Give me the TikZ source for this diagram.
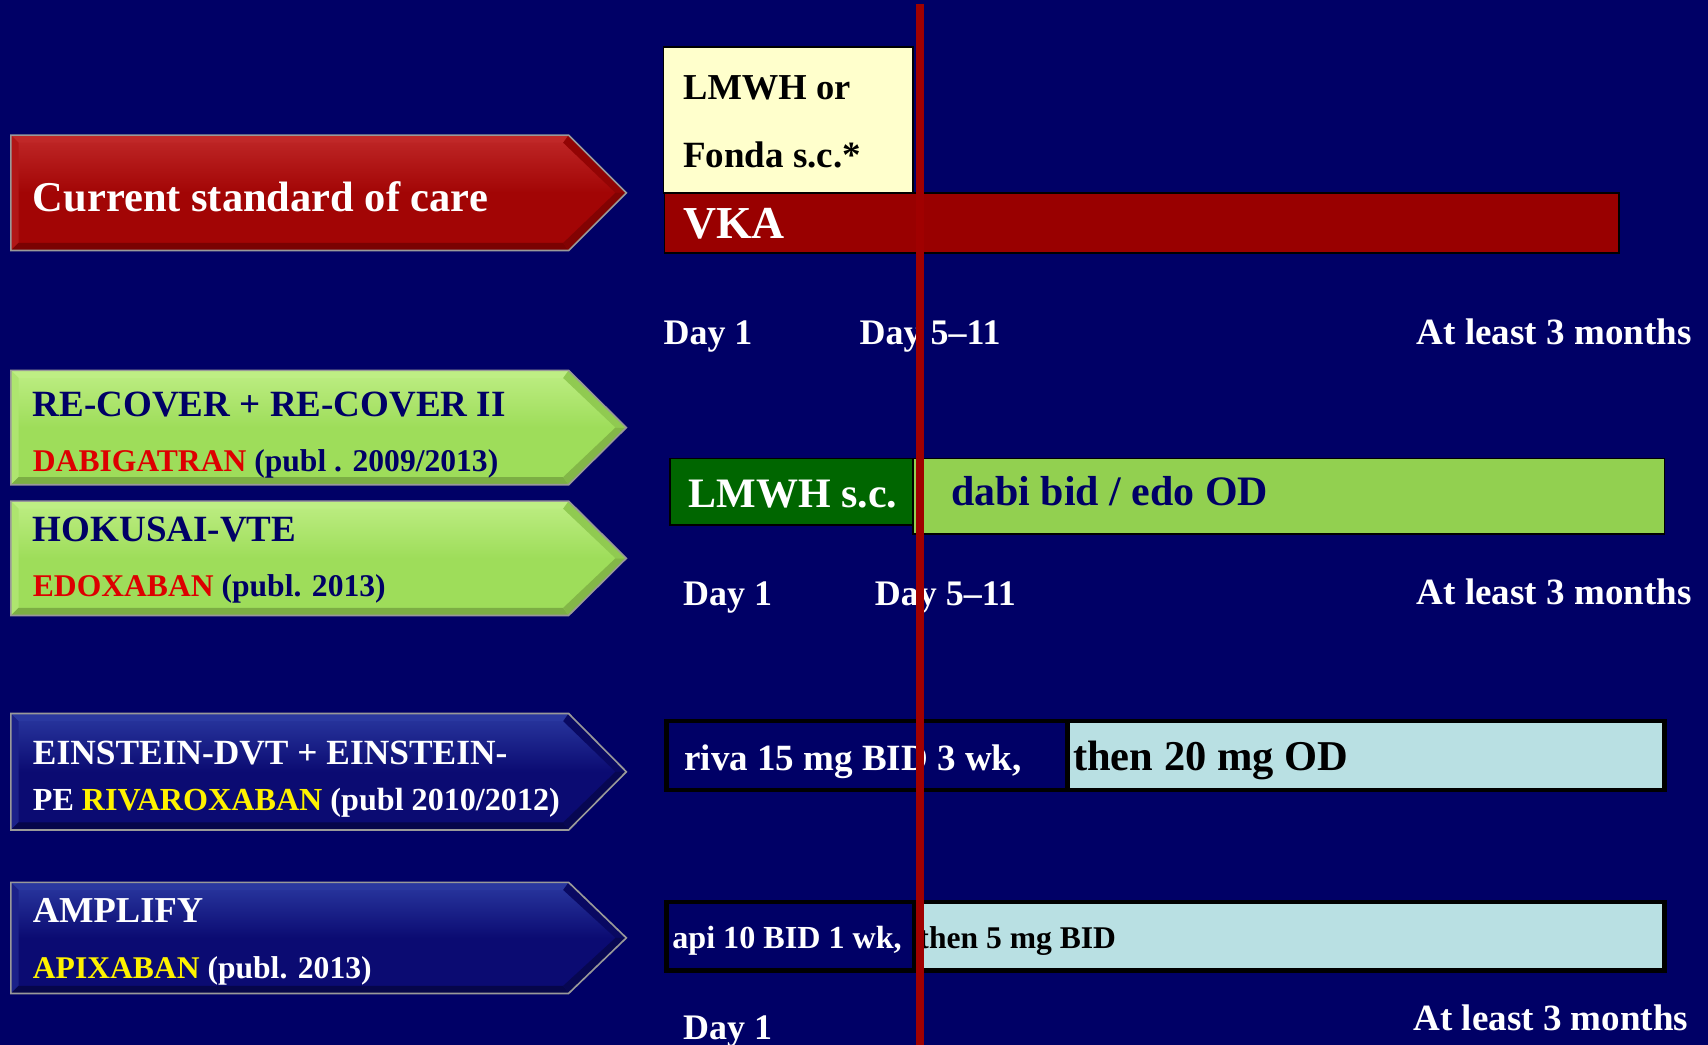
\documentclass[tikz,border=0pt]{standalone}
\usepackage{fontspec}
\setmainfont{Liberation Serif}
\definecolor{bg}{HTML}{000066}
\definecolor{redA}{HTML}{A20505}
\definecolor{redL}{HTML}{C02828}
\definecolor{redD}{HTML}{7A0202}
\definecolor{grnA}{HTML}{9EDD5A}
\definecolor{grnL}{HTML}{BEEE84}
\definecolor{grnD}{HTML}{7CAE44}
\definecolor{navA}{HTML}{0B0B72}
\definecolor{navL}{HTML}{2A38A0}
\definecolor{navD}{HTML}{06064A}
\definecolor{vka}{HTML}{990000}
\definecolor{lyel}{HTML}{FFFFCC}
\definecolor{dgrn}{HTML}{006600}
\definecolor{dabi}{HTML}{92D050}
\definecolor{lblu}{HTML}{B9E0E3}
\definecolor{txtred}{HTML}{DD0000}
\definecolor{vline}{HTML}{A00000}
\newcommand{\myfs}[1]{\fontsize{#1}{#1}\selectfont}
\newcommand{\bevarr}[5]{%
  \pgfmathsetmacro{\ym}{(#1+#2)/2}%
  \pgfmathsetmacro{\yt}{#1+7}%
  \pgfmathsetmacro{\yb}{#2-7}%
  \shade[top color=#4, bottom color=#3, middle color=#3] (10,#1) -- (522,#1) -- (575,\ym) -- (522,#2) -- (10,#2) -- cycle;
  \fill[#4] (10,#1) -- (522,#1) -- (517,\yt) -- (17,\yt) -- cycle;
  \fill[#4!50!#3] (10,#1) -- (17,\yt) -- (17,\yb) -- (10,#2) -- cycle;
  \fill[#5] (10,#2) -- (522,#2) -- (517,\yb) -- (17,\yb) -- cycle;
  \fill[#5!40!#3] (522,#1) -- (575,\ym) -- (565,\ym) -- (517,\yt) -- cycle;
  \fill[#5!80!#3] (522,#2) -- (575,\ym) -- (565,\ym) -- (517,\yb) -- cycle;
  \draw[edge] (10,#1) -- (522,#1) -- (575,\ym) -- (522,#2) -- (10,#2) -- cycle;
}
\begin{document}
\begin{tikzpicture}[x=1pt,y=-1pt,
  txt/.style={inner sep=0pt, anchor=base west, font=\bfseries},
  txtr/.style={inner sep=0pt, anchor=base east, font=\bfseries},
  edge/.style={draw=gray!80, line width=1.5pt},
  thin bar/.style={draw=black, line width=1.5pt},
  thick bar/.style={draw=black, line width=4pt}]
\fill[bg] (0,0) rectangle (1568,959);
\useasboundingbox (0,0) rectangle (1568,959);

% left arrows
\bevarr{124}{230}{redA}{redL}{redD}
\bevarr{340}{445}{grnA}{grnL}{grnD}
\bevarr{460}{565}{grnA}{grnL}{grnD}
\bevarr{655}{762}{navA}{navL}{navD}
\bevarr{810}{912}{navA}{navL}{navD}

\node[txt, white] (csc) at (30,194) {\myfs{39}Current standard of care};
\node[txt, bg] (rec1) at (30,382) {\myfs{34}RE-COVER + RE-COVER II};
\node[txt, bg] (rec2) at (30,433) {\myfs{29}\textcolor{txtred}{DABIGATRAN} (publ . 2009/2013)};
\node[txt, bg] (hok1) at (30,497) {\myfs{34}HOKUSAI-VTE};
\node[txt, bg] (hok2) at (30,548) {\myfs{29}\textcolor{txtred}{EDOXABAN} (publ. 2013)};
\node[txt, white] (ein1) at (30,702) {\myfs{32.5}EINSTEIN-DVT + EINSTEIN-};
\node[txt, white] (ein2) at (30,744) {\myfs{29.5}PE \textcolor{yellow}{RIVAROXABAN} (publ 2010/2012)};
\node[txt, white] (amp1) at (30,847) {\myfs{33.5}AMPLIFY};
\node[txt, white] (amp2) at (30,898) {\myfs{29}\textcolor{yellow}{APIXABAN} (publ. 2013)};

% row 1
\filldraw[thin bar, fill=vka] (610,177) rectangle (1486,232);
\filldraw[thin bar, fill=lyel] (609,43) rectangle (838,177);
\node[txt, black] (lmwh1) at (627,91) {\myfs{33.5}LMWH or};
\node[txt, black] (lmwh2) at (627,154) {\myfs{34}Fonda s.c.*};
\node[txt, white] (vkat) at (627,219) {\myfs{42}VKA};
\node[txt, white] (d1a) at (609,316) {\myfs{33}Day 1};
\node[txt, white] (d5a) at (789,316) {\myfs{33}Day 5--11};
\node[txtr, white] (m3a) at (1553,316) {\myfs{34}At least 3 months};

% row 2
\filldraw[thin bar, fill=dabi] (838,421) rectangle (1528,490);
\filldraw[thin bar, fill=dgrn] (615,421) rectangle (838,482);
\node[txt, white] (lmwhsc) at (632,466) {\myfs{38.5}LMWH s.c.};
\node[txt, bg] (dabit) at (873,464) {\myfs{38.5}dabi bid / edo OD};
\node[txt, white] (d1b) at (627,556) {\myfs{33}Day 1};
\node[txt, white] (d5b) at (803,556) {\myfs{33}Day 5--11};
\node[txtr, white] (m3b) at (1553,555) {\myfs{34}At least 3 months};

% row 3
\fill[bg] (612,662) rectangle (980,725);
\fill[lblu] (980,662) rectangle (1528,725);
\draw[thick bar] (612,662) rectangle (1528,725);
\draw[thick bar] (980,662) -- (980,725);
\node[txt, white] (riva) at (628,707) {\myfs{34}riva 15 mg BID 3 wk,};
\node[txt, black] (then20) at (985,707) {\myfs{39}then 20 mg OD};

% row 4
\fill[bg] (612,828) rectangle (839,891);
\fill[lblu] (839,828) rectangle (1528,891);
\draw[thick bar] (612,828) rectangle (1528,891);
\draw[thick bar] (839,828) -- (839,891);
\node[txt, white] (api) at (617,871) {\myfs{29.5}api 10 BID 1 wk,};
\node[txt, black] (then5) at (843,871) {\myfs{29}then 5 mg BID};
\node[txt, white] (d1c) at (627,954) {\myfs{33}Day 1};
\node[txtr, white] (m3c) at (1550,946) {\myfs{34}At least 3 months};

% vertical red line
\coordinate (vtop) at (844.5,4);
\coordinate (vbot) at (844.5,959);
\draw[vline, line width=7pt] (vtop) -- (vbot);
\end{tikzpicture}
\end{document}
